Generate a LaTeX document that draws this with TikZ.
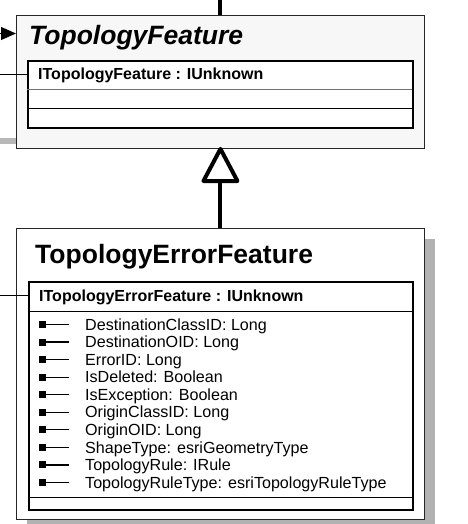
\documentclass[tikz,border=0pt]{standalone}
\usepackage{fontspec}
\setmainfont{Liberation Sans}
\usetikzlibrary{arrows.meta,calc}
\begin{document}
\begin{tikzpicture}[x=1pt,y=-1pt,
  outerbox/.style={draw=black!85, line width=0.9pt, inner sep=0pt, anchor=north west},
  innerbox/.style={draw=black, line width=1.6pt, inner sep=0pt, anchor=north west},
  sep/.style={line width=0.9pt},
  txt/.style={anchor=base west, inner sep=0pt},
  titlefont/.style={font=\fontsize{26.5}{30}\selectfont\bfseries},
  headfont/.style={font=\fontsize{16}{18}\selectfont\bfseries},
  attrfont/.style={font=\fontsize{16.1}{18}\selectfont},
  heavy/.style={line width=4pt},
  link/.style={line width=1pt}]
\useasboundingbox (0,0) rectangle (467,524);

% stray shadow strip at left
\fill[black!28] (0,138) rectangle (16,144);

% TopologyFeature
\node[outerbox, fill=black!3, minimum width=408pt, minimum height=133pt] (tf) at (16,15) {};
\node[innerbox, fill=white, minimum width=385pt, minimum height=67pt] (tfi) at (27,60) {};
\draw[sep, black!55] (27,89) -- (412,89);
\draw[sep] (27,108) -- (412,108);
\node[txt, titlefont] (tft) at (29,45) {\itshape TopologyFeature};
\node[txt, headfont] (tfh) at (38,80) {ITopologyFeature : IUnknown};

% TopologyErrorFeature
\fill[black!30] (27,239) rectangle (435,530);
\node[outerbox, fill=white, minimum width=408pt, minimum height=291pt] (tef) at (16,228) {};
\node[innerbox, fill=white, minimum width=384pt, minimum height=228pt] (tefi) at (28,281) {};
\draw[sep] (28,311) -- (412,311);
\draw[sep] (28,497) -- (412,497);
\node[txt, titlefont] (teft) at (35,263) {TopologyErrorFeature};
\node[txt, headfont] (tefh) at (39,301) {ITopologyErrorFeature : IUnknown};

\foreach \t [count=\i from 0] in {DestinationClassID: Long, DestinationOID: Long, ErrorID: Long, IsDeleted: Boolean, IsException: Boolean, OriginClassID: Long, OriginOID: Long, ShapeType: esriGeometryType, TopologyRule: IRule, TopologyRuleType: esriTopologyRuleType}{
  \pgfmathsetmacro\yy{324.5+17.55*\i}
  \fill (38.5,\yy-3.5) rectangle (46,\yy+3.5);
  \draw[line width=1.3pt] (45,\yy) -- (69,\yy);
  \node[txt, attrfont] (a\i) at (85,\yy+5.7) {\t};
}

% connectors
\coordinate (topin) at (tf.north |- 0,0);
\draw[heavy] (topin) -- (tf.north);
\coordinate (lin) at (0,33.5);
\draw[link, -{Triangle[length=15pt,width=13pt]}] (lin) -- (tf.west |- lin);
\coordinate (l1) at (0,75);
\draw[link] (l1) -- (tfi.west |- l1);
\coordinate (l2) at (0,295);
\draw[link] (l2) -- (tefi.west |- l2);
\coordinate (tribase) at (tf.south |- 0,181);
\draw[heavy] (tef.north) -- (tribase);
\draw[heavy, line join=round, fill=white] (tf.south) -- ($(tribase)+(-17,0)$) -- ($(tribase)+(17,0)$) -- cycle;
\end{tikzpicture}
\end{document}
